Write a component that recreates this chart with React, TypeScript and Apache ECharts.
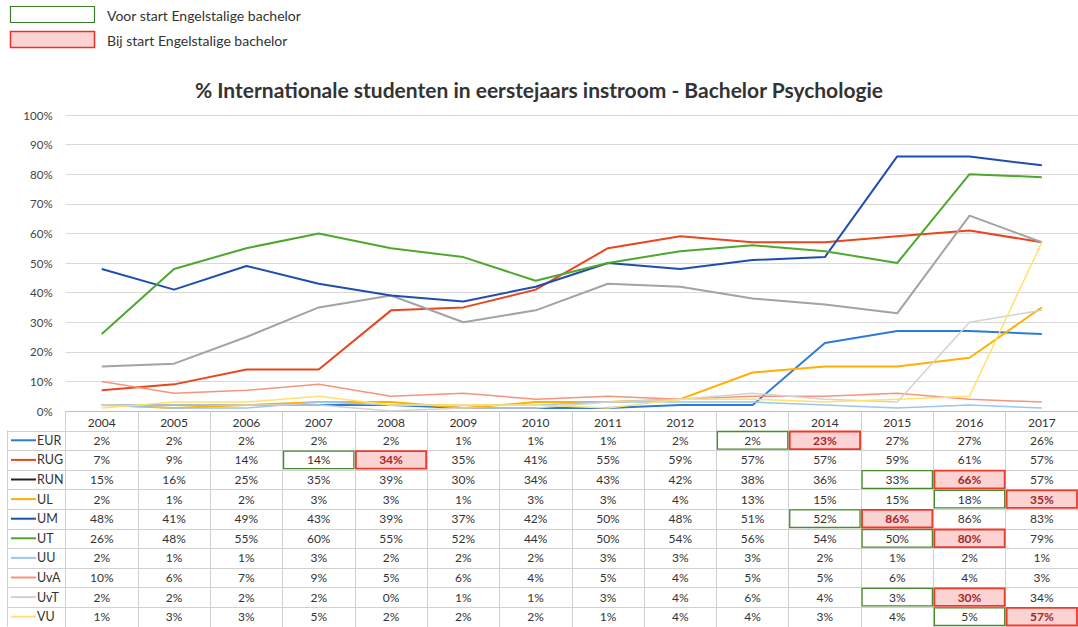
import React, { useEffect, useRef } from 'react';
import * as echarts from 'echarts';

const years = ['2004', '2005', '2006', '2007', '2008', '2009', '2010', '2011', '2012', '2013', '2014', '2015', '2016', '2017'];
const seriesNames = ['EUR', 'RUG', 'RUN', 'UL', 'UM', 'UT', 'UU', 'UvA', 'UvT', 'VU'];
const EUR = [2, 2, 2, 2, 2, 1, 1, 1, 2, 2, 23, 27, 27, 26];
const RUG = [7, 9, 14, 14, 34, 35, 41, 55, 59, 57, 57, 59, 61, 57];
const RUN = [15, 16, 25, 35, 39, 30, 34, 43, 42, 38, 36, 33, 66, 57];
const UL = [2, 1, 2, 3, 3, 1, 3, 3, 4, 13, 15, 15, 18, 35];
const UM = [48, 41, 49, 43, 39, 37, 42, 50, 48, 51, 52, 86, 86, 83];
const UT = [26, 48, 55, 60, 55, 52, 44, 50, 54, 56, 54, 50, 80, 79];
const UU = [2, 1, 1, 3, 2, 2, 2, 3, 3, 3, 2, 1, 2, 1];
const UvA = [10, 6, 7, 9, 5, 6, 4, 5, 4, 5, 5, 6, 4, 3];
const UvT = [2, 2, 2, 2, 0, 1, 1, 3, 4, 6, 4, 3, 30, 34];
const VU = [1, 3, 3, 5, 2, 2, 2, 1, 4, 4, 3, 4, 5, 57];
const seriesValues = [EUR, RUG, RUN, UL, UM, UT, UU, UvA, UvT, VU];

// cells "voor start" (green outline) and "bij start" (red filled)
const voorStart = [['EUR', '2013'], ['RUG', '2007'], ['RUN', '2015'], ['UL', '2016'], ['UM', '2014'], ['UT', '2015'], ['UvT', '2015'], ['VU', '2016']];
const bijStart = [['EUR', '2014'], ['RUG', '2008'], ['RUN', '2016'], ['UL', '2017'], ['UM', '2015'], ['UT', '2016'], ['UvT', '2016'], ['VU', '2017']];

const legendLabels = ['Voor start Engelstalige bachelor', 'Bij start Engelstalige bachelor'];
const chartTitle = '% Internationale studenten in eerstejaars instroom - Bachelor Psychologie';

const lineColors: Record<string, string> = {
  EUR: '#2E7BD6', RUG: '#E8461E', RUN: '#A3A3A3', UL: '#FFB000', UM: '#1F4EAF',
  UT: '#4EA72E', UU: '#9CC7EE', UvA: '#F4957E', UvT: '#D2D2D2', VU: '#FFE26A',
};
const keyColors: Record<string, string> = { ...lineColors, RUN: '#222222' };

const FONT = 'Lato, "Noto Sans", sans-serif';
const ROW_TOP = 430.5;
const ROW_H = 19.6;
const GRID_BORDER = '#D0D0D0';

function buildGraphic(chart: any) {
  const els: any[] = [];
  const cx = (i: number) => chart.convertToPixel({ xAxisIndex: 0 }, years[i]);
  const band = cx(1) - cx(0);
  const tableBottom = ROW_TOP + ROW_H * seriesNames.length;

  // legend boxes
  els.push({ type: 'rect', shape: { x: 10.5, y: 6.5, width: 84, height: 16 }, style: { fill: '#fff', stroke: '#3E7A2A', lineWidth: 1.2 } });
  els.push({ type: 'rect', shape: { x: 10.5, y: 31.5, width: 84, height: 16 }, style: { fill: '#FBD3D3', stroke: '#E8342A', lineWidth: 1.6 } });
  legendLabels.forEach((t, i) => {
    els.push({ type: 'text', x: 107, y: 15 + i * 25, style: { text: t, fill: '#333', font: `14px ${FONT}`, align: 'left', verticalAlign: 'middle', textAlign: 'left', textVerticalAlign: 'middle' } });
  });

  // horizontal table lines
  for (let r = 0; r <= seriesNames.length; r++) {
    const y = Math.round(ROW_TOP + r * ROW_H) + 0.5;
    els.push({ type: 'line', silent: true, shape: { x1: 7, y1: y, x2: 1078, y2: y }, style: { stroke: GRID_BORDER, lineWidth: 1 } });
  }
  els.push({ type: 'line', silent: true, shape: { x1: 7.5, y1: ROW_TOP, x2: 7.5, y2: tableBottom }, style: { stroke: GRID_BORDER, lineWidth: 1 } });

  // highlight cells
  const cellRect = (name: string, yr: string) => {
    const r = seriesNames.indexOf(name);
    const c = years.indexOf(yr);
    return { x: cx(c) - band / 2 + 1, y: ROW_TOP + r * ROW_H + 1, width: band - 2, height: ROW_H - 2 };
  };
  voorStart.forEach(([n, y]) => {
    els.push({ type: 'rect', silent: true, z: 10, shape: cellRect(n, y), style: { fill: 'none', stroke: '#4A8A2E', lineWidth: 1.3 } });
  });
  bijStart.forEach(([n, y]) => {
    els.push({ type: 'rect', silent: true, z: 10, shape: cellRect(n, y), style: { fill: '#FBD3D3', stroke: '#EE3A2C', lineWidth: 1.8 } });
  });
  const isBij = (n: string, yr: string) => bijStart.some(([a, b]) => a === n && b === yr);

  // row keys, labels and values
  seriesNames.forEach((name, r) => {
    const yc = ROW_TOP + r * ROW_H + ROW_H / 2;
    els.push({ type: 'line', silent: true, shape: { x1: 11, y1: yc, x2: 36, y2: yc }, style: { stroke: keyColors[name], lineWidth: 2 } });
    els.push({ type: 'text', silent: true, x: 37, y: yc, style: { text: name, fill: '#333', font: `12.5px ${FONT}`, align: 'left', verticalAlign: 'middle', textAlign: 'left', textVerticalAlign: 'middle' } });
    seriesValues[r].forEach((v, c) => {
      const red = isBij(name, years[c]);
      els.push({
        type: 'text', silent: true, z: 20, x: cx(c), y: yc,
        style: {
          text: `${v}%`, fill: red ? '#A3262A' : '#333',
          font: `${red ? 'bold ' : ''}12px ${FONT}`,
          align: 'center', verticalAlign: 'middle', textAlign: 'center', textVerticalAlign: 'middle',
        },
      });
    });
  });
  return els;
}

export default function App() {
  const ref = useRef<HTMLDivElement>(null);
  useEffect(() => {
    document.body.style.margin = '0';
    if (!ref.current) return;
    const chart = echarts.init(ref.current, null, { renderer: 'svg' });
    chart.setOption({
      animation: false,
      backgroundColor: '#fff',
      textStyle: { fontFamily: FONT },
      title: {
        text: chartTitle, left: 'center', top: 74,
        textStyle: { fontSize: 21, fontWeight: 'bold', color: '#333', fontFamily: FONT },
      },
      grid: { left: 65.6, right: -6.4, top: 115, bottom: 216, containLabel: false },
      xAxis: {
        type: 'category', data: years, boundaryGap: true,
        axisLine: { show: true, lineStyle: { color: '#BFBFBF', width: 1 } },
        axisTick: { show: true, length: 216, inside: false, lineStyle: { color: GRID_BORDER } },
        axisLabel: { margin: 5, fontSize: 12, color: '#333', fontFamily: FONT },
      },
      yAxis: {
        type: 'value', min: 0, max: 100, interval: 10,
        axisLine: { show: false }, axisTick: { show: false },
        axisLabel: { formatter: '{value}%', fontSize: 11.5, color: '#444', margin: 13, fontFamily: FONT },
        splitLine: { lineStyle: { color: '#D9D9D9', width: 1 } },
      },
      series: seriesNames.map((name, i) => ({
        name, type: 'line', data: seriesValues[i], showSymbol: false, symbol: 'none',
        lineStyle: { color: lineColors[name], width: ['UU', 'UvA', 'UvT', 'VU'].includes(name) ? 1.5 : 2 },
        itemStyle: { color: lineColors[name] },
      })),
    });
    chart.setOption({ graphic: buildGraphic(chart) });
    return () => chart.dispose();
  }, []);
  return <div ref={ref} style={{ width: 1078, height: 627 }} />;
}
